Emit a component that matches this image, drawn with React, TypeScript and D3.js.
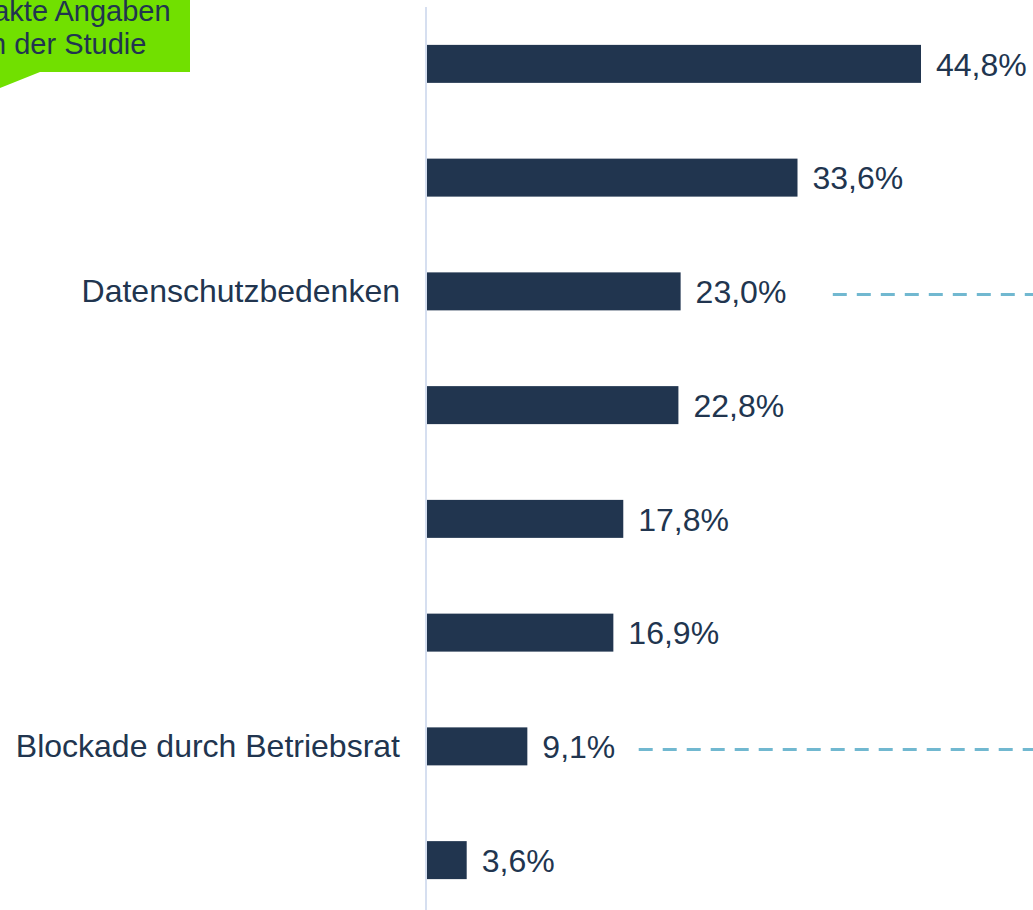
import React from "react";
import * as d3 from "d3";

const categories: string[] = [
  "",
  "",
  "Datenschutzbedenken",
  "",
  "",
  "",
  "Blockade durch Betriebsrat",
  "",
];
const values: number[] = [44.8, 33.6, 23.0, 22.8, 17.8, 16.9, 9.1, 3.6];
const valueLabels: string[] = ["44,8%", "33,6%", "23,0%", "22,8%", "17,8%", "16,9%", "9,1%", "3,6%"];
// dashed guide lines: row index and value where the line begins
const guideRows: number[] = [2, 6];
const guideStarts: number[] = [36.8, 19.2];
const calloutLines: string[] = ["Exakte Angaben", "in der Studie"];

const W = 1033;
const H = 910;
const BAR = "#21354f";
const TEXT = "#21354f";
const FONT = "'Liberation Sans', Arial, sans-serif";

export default function App() {
  const idx = values.map((_, i) => String(i));
  const x = d3.scaleLinear().domain([0, 44.8]).range([427, 921]);
  const y = d3
    .scaleBand<string>()
    .domain(idx)
    .range([7, 917])
    .paddingInner(0.666)
    .paddingOuter(0.333);
  const bw = y.bandwidth();

  return (
    <svg
      width={W}
      height={H}
      style={{ position: "absolute", left: 0, top: 0, background: "#fff" }}
      fontFamily={FONT}
    >
      {/* callout */}
      <polygon points="0,0 190,0 190,72 40,72 0,88" fill="#71e000" />
      <text x={65} y={21} fontSize={29} fill={TEXT} textAnchor="middle">
        {calloutLines[0]}
      </text>
      <text x={65} y={54} fontSize={29} fill={TEXT} textAnchor="middle">
        {calloutLines[1]}
      </text>

      {/* axis line */}
      <line x1={426} x2={426} y1={7} y2={H} stroke="#d6dff0" strokeWidth={2} />

      {values.map((v, i) => {
        const yy = y(String(i))!;
        const cy = yy + bw / 2;
        return (
          <g key={i}>
            <rect x={x(0)} y={yy} width={x(v) - x(0)} height={bw} fill={BAR} />
            <text
              x={x(v) + 15}
              y={cy}
              dy="0.37em"
              fontSize={32}
              fill={TEXT}
            >
              {valueLabels[i]}
            </text>
            {categories[i] && (
              <text
                x={x(0) - 27}
                y={cy}
                dy="0.33em"
                fontSize={32}
                fill={TEXT}
                textAnchor="end"
              >
                {categories[i]}
              </text>
            )}
          </g>
        );
      })}

      {guideRows.map((r, k) => {
        const cy = y(String(r))! + bw / 2 + 3;
        return (
          <line
            key={k}
            x1={x(guideStarts[k])}
            x2={W + 20}
            y1={cy}
            y2={cy}
            stroke="#71b8d0"
            strokeWidth={3}
            strokeDasharray="14 10"
          />
        );
      })}
    </svg>
  );
}
